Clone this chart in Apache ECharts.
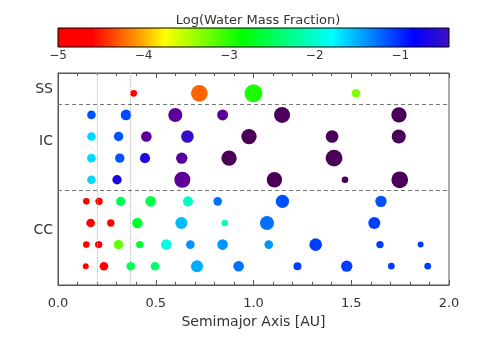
<!DOCTYPE html>
<html>
<head>
<meta charset="utf-8">
<script src="https://cdn.jsdelivr.net/npm/echarts@6/dist/echarts.min.js"></script>
<style>
html, body { margin: 0; padding: 0; background: #fff; }
#chart { width: 488px; height: 360px; }
</style>
</head>
<body>
<div id="chart"></div>
<script>
// planets: [semimajor axis (AU), log10 water mass fraction, radius (Earth = 1)]
const solarSystem = [[0.387, -5.0, 0.38], [0.723, -4.25, 0.93], [1.0, -2.95, 1.0], [1.524, -3.3, 0.48]]

const icSys1 = [[0.171, -1.15, 0.48], [0.348, -1.12, 0.59], [0.6, -0.36, 0.78], [0.842, -0.36, 0.61], [1.146, -0.28, 0.89], [1.744, -0.28, 0.85]]
const icSys2 = [[0.171, -1.65, 0.48], [0.31, -1.15, 0.52], [0.452, -0.36, 0.59], [0.662, -0.5, 0.7], [0.977, -0.28, 0.85], [1.402, -0.28, 0.7], [1.743, -0.28, 0.78]]
const icSys3 = [[0.171, -1.65, 0.48], [0.316, -1.15, 0.52], [0.445, -0.65, 0.56], [0.633, -0.37, 0.63], [0.875, -0.28, 0.85], [1.412, -0.28, 0.93]]
const icSys4 = [[0.171, -1.65, 0.48], [0.302, -0.65, 0.52], [0.636, -0.36, 0.89], [1.107, -0.28, 0.85], [1.468, -0.28, 0.37], [1.748, -0.28, 0.93]]

const ccSys1 = [[0.145, -5.0, 0.37], [0.21, -5.0, 0.41], [0.321, -2.5, 0.52], [0.474, -2.55, 0.59], [0.665, -2.05, 0.56], [0.817, -1.27, 0.48], [1.148, -1.15, 0.74], [1.652, -1.15, 0.63]]
const ccSys2 = [[0.167, -5.0, 0.48], [0.27, -5.0, 0.41], [0.406, -2.65, 0.59], [0.631, -1.55, 0.67], [0.853, -2.1, 0.37], [1.069, -1.27, 0.78], [1.618, -1.08, 0.67]]
const ccSys3 = [[0.145, -5.0, 0.37], [0.208, -5.0, 0.41], [0.309, -3.2, 0.52], [0.418, -2.65, 0.41], [0.554, -1.9, 0.59], [0.677, -1.4, 0.48], [0.842, -1.4, 0.59], [1.078, -1.4, 0.48], [1.318, -1.08, 0.7], [1.647, -1.08, 0.41], [1.855, -1.08, 0.33]]
const ccSys4 = [[0.142, -5.0, 0.33], [0.235, -5.0, 0.48], [0.372, -2.5, 0.48], [0.496, -2.4, 0.48], [0.711, -1.5, 0.67], [0.924, -1.27, 0.59], [1.225, -1.08, 0.44], [1.477, -1.08, 0.63], [1.705, -1.08, 0.37], [1.891, -1.08, 0.37]]

const systems = [solarSystem, icSys1, icSys2, icSys3, icSys4, ccSys1, ccSys2, ccSys3, ccSys4]
const groupLabels = ['SS', 'IC', 'CC']
const groupLabelRows = [-0.2, 2.24, 6.33]
const groupBreaks = [0.5, 4.5]
const snowLines = [0.2, 0.37]

// colour table (log water fraction -> colour), roughly IDL rainbow reversed
const waterStops = [
  [-5.0, '#ff0000'], [-4.6, '#ff0000'], [-4.15, '#ff8000'], [-3.75, '#ffff00'],
  [-2.85, '#00ff00'], [-1.8, '#00ffff'], [-0.85, '#0000ff'], [-0.43, '#4010c0'],
  [-0.36, '#5c0098'], [-0.28, '#4a0058'],
]
const barMin = -5, barMax = -0.43

const hexRgb = h => [1, 3, 5].map(i => parseInt(h.slice(i, i + 2), 16))
const waterColor = v => {
  if (v <= waterStops[0][0]) return waterStops[0][1]
  for (let i = 1; i < waterStops.length; i++) {
    const [v1, c1] = waterStops[i]
    if (v <= v1) {
      const [v0, c0] = waterStops[i - 1]
      const t = (v - v0) / (v1 - v0)
      const a = hexRgb(c0), b = hexRgb(c1)
      const rgb = a.map((x, k) => Math.round(x + (b[k] - x) * t))
      return `rgb(${rgb.join(',')})`
    }
  }
  return waterStops[waterStops.length - 1][1]
}

const barGradient = {
  type: 'linear', x: 0, y: 0, x2: 1, y2: 0,
  colorStops: waterStops
    .filter(([v]) => v <= barMax)
    .map(([v, c]) => ({ offset: (v - barMin) / (barMax - barMin), color: c })),
}

const list = systems.reduce((prev, sys, row) => {
  sys.forEach(([a, w, r]) => prev.push([a, row, w, r]))
  return prev
}, [])

const font = 'DejaVu Sans'
const txt = '#333'
const frame = '#555'

const chart = echarts.init(document.getElementById('chart'))
chart.setOption({
  animation: false,
  title: {
    text: 'Log(Water Mass Fraction)',
    left: 253, top: 9, textAlign: 'center',
    textStyle: { fontFamily: font, fontSize: 13, fontWeight: 'normal', color: txt },
  },
  grid: [
    { left: 58, right: 39, top: 73, bottom: 75, show: true, borderColor: frame, borderWidth: 1, outerBoundsMode: 'none' },
    { left: 58, right: 39, top: 28, height: 19, show: true, backgroundColor: barGradient, borderColor: '#000', borderWidth: 1, outerBoundsMode: 'none' },
  ],
  xAxis: [
    {
      type: 'value', gridIndex: 0, min: 0, max: 2, interval: 0.5,
      name: 'Semimajor Axis [AU]', nameLocation: 'middle', nameGap: 30,
      nameTextStyle: { fontFamily: font, fontSize: 14, color: txt },
      axisLine: { onZero: false, lineStyle: { color: frame } },
      axisTick: { inside: true, length: 5, lineStyle: { color: frame } },
      minorTick: { show: true, splitNumber: 5, length: 3, lineStyle: { color: frame } },
      axisLabel: { fontFamily: font, fontSize: 13, color: txt, margin: 12, formatter: v => v.toFixed(1) },
      splitLine: { show: false },
    },
    {
      type: 'value', gridIndex: 0, position: 'top', min: 0, max: 2, interval: 0.5,
      axisLine: { onZero: false, lineStyle: { color: frame } },
      axisTick: { inside: true, length: 5, lineStyle: { color: frame } },
      minorTick: { show: true, splitNumber: 5, length: 3, lineStyle: { color: frame } },
      axisLabel: { show: false },
      splitLine: { show: false },
    },
    {
      type: 'value', gridIndex: 1, min: barMin, max: barMax, interval: 1,
      axisLine: { show: false, onZero: false },
      axisTick: { show: false },
      splitLine: { show: false },
      axisLabel: {
        fontFamily: font, fontSize: 12, color: txt, margin: 3, showMaxLabel: false,
        formatter: v => String(v).replace('-', '\u2212'),
      },
    },
  ],
  yAxis: [
    {
      type: 'value', gridIndex: 0, inverse: true, min: -0.94, max: 8.87,
      axisLine: { onZero: false, lineStyle: { color: frame } },
      axisTick: { show: false },
      splitLine: { show: false },
      axisLabel: {
        customValues: groupLabelRows,
        fontFamily: font, fontSize: 14, color: txt, margin: 5,
        formatter: v => groupLabels[groupLabelRows.indexOf(v)] || '',
      },
    },
    { type: 'value', gridIndex: 1, min: 0, max: 1, show: false },
  ],
  series: [
    {
      type: 'scatter',
      xAxisIndex: 0,
      yAxisIndex: 0,
      data: list,
      symbolSize: v => v[3] * 18,
      itemStyle: { color: ({ data }) => waterColor(data[2]), opacity: 1 },
      markLine: {
        silent: true,
        symbol: 'none',
        label: { show: false },
        data: [
          ...snowLines.map(x => ({ xAxis: x, lineStyle: { color: '#bbb', type: 'dotted', width: 1 } })),
          ...groupBreaks.map(y => ({ yAxis: y, lineStyle: { color: '#777', type: [4, 3], width: 1 } })),
        ],
      },
    },
  ],
})
</script>
</body>
</html>
